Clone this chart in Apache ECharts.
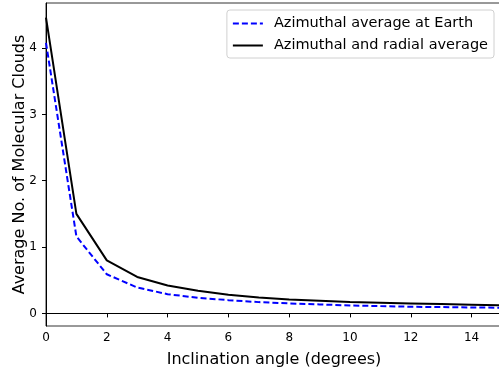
<!DOCTYPE html>
<html>
<head>
<meta charset="utf-8">
<script src="https://cdn.jsdelivr.net/npm/echarts@6/dist/echarts.min.js"></script>
<style>
	html, body { margin: 0; padding: 0; background: #fff; }
	#chart { width: 499px; height: 369px; }
</style>
</head>
<body>
<div id="chart"></div>
<script>
	// inclination angle, degrees
	var angles = [0, 1, 2, 3, 4, 5, 6, 7, 8, 9, 10, 11, 12, 13, 14, 15];
	// azimuthal average at Earth (blue dashed)
	var earthAvg = [4.08, 1.16, 0.59, 0.39, 0.29, 0.235, 0.20, 0.17, 0.15, 0.135, 0.12, 0.11, 0.10, 0.095, 0.09, 0.085];
	// azimuthal and radial average (black solid)
	var radialAvg = [4.46, 1.50, 0.80, 0.55, 0.42, 0.34, 0.28, 0.24, 0.21, 0.19, 0.17, 0.16, 0.15, 0.14, 0.13, 0.12];
	var seriesNames = ['Azimuthal average at Earth', 'Azimuthal and radial average'];
	var yTicks = [0, 1, 2, 3, 4];

	function pairs(ys) {
		var out = [];
		for (var i = 0; i < angles.length; i++) {
			out.push([angles[i], ys[i]]);
		}
		return out;
	}

	var chart = echarts.init(document.getElementById('chart'));
	var font = 'DejaVu Sans';
	chart.setOption({
		animation: false,
		grid: {
			left: 46,
			right: -3,
			top: 3,
			bottom: 43,
			outerBoundsMode: 'none',
			containLabel: false,
			show: true,
			borderColor: '#333',
			borderWidth: 1
		},
		legend: {
			right: 5,
			top: 10,
			orient: 'vertical',
			itemWidth: 30,
			itemHeight: 14,
			itemGap: 7,
			padding: [6, 6, 5, 5],
			borderColor: '#d0d0d0',
			borderWidth: 1,
			borderRadius: 3,
			itemStyle: { opacity: 0 },
			textStyle: { fontFamily: font, fontSize: 14.5, color: '#000', padding: [0, 0, 0, 6] },
			data: seriesNames
		},
		xAxis: {
			type: 'value',
			min: 0,
			max: 15,
			interval: 2,
			name: 'Inclination angle (degrees)',
			nameLocation: 'middle',
			nameGap: 26,
			nameMoveOverlap: false,
			nameTextStyle: { fontFamily: font, fontSize: 16, color: '#000' },
			splitLine: { show: false },
			axisLine: { lineStyle: { color: '#000' } },
			axisTick: { length: 4, lineStyle: { color: '#000' } },
			axisLabel: {
				fontFamily: font, fontSize: 12, color: '#000', margin: 6,
				showMaxLabel: false
			}
		},
		yAxis: {
			type: 'value',
			min: -0.19,
			max: 4.68,
			name: 'Average No. of Molecular Clouds',
			nameLocation: 'middle',
			nameGap: 18,
			nameMoveOverlap: false,
			nameTextStyle: { fontFamily: font, fontSize: 16, color: '#000' },
			splitLine: { show: false },
			axisLine: { show: true, lineStyle: { color: '#000' } },
			axisTick: { show: true, length: 4, lineStyle: { color: '#000' },
				customValues: yTicks },
			axisLabel: {
				fontFamily: font, fontSize: 12, color: '#000', margin: 9,
				customValues: yTicks
			}
		},
		series: [
			{
				name: seriesNames[0],
				type: 'line',
				data: pairs(earthAvg),
				symbol: 'none',
				lineStyle: { color: '#0000ff', width: 2, type: [6, 3] },
				itemStyle: { color: '#0000ff' }
			},
			{
				name: seriesNames[1],
				type: 'line',
				data: pairs(radialAvg),
				symbol: 'none',
				lineStyle: { color: '#000', width: 2 },
				itemStyle: { color: '#000' }
			}
		]
	});
</script>
</body>
</html>
